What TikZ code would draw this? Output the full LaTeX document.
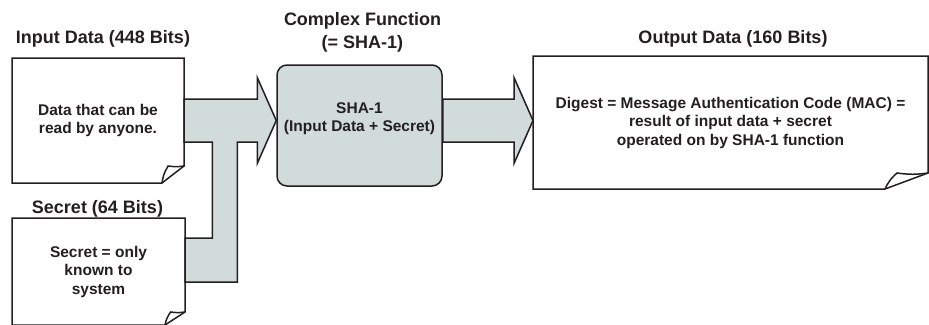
\documentclass[tikz,border=0pt]{standalone}
\usepackage{fontspec}
\setmainfont{Liberation Sans}
\usetikzlibrary{arrows.meta,calc,positioning}
\definecolor{ink}{RGB}{35,31,32}
\definecolor{shagray}{RGB}{209,220,218}

% outline of a sheet with a curled lower right corner
\newcommand{\curlbox}[3]{%
  \draw[boxline] (#1.south west) -- (#1.north west) -- (#1.north east)
    -- ($(#1.south east)+(0,-#3)$) coordinate (#1-b)
    -- ($(#1.south east)+(-#2,0)$) coordinate (#1-a) -- cycle;
  \draw[boxline] (#1-a) to[bend left=12] ($(#1-a)+(0.28*#2,-#3)$) to[bend right=8] (#1-b);}

\begin{document}
\begin{tikzpicture}[>=Latex,x=1pt,y=-1pt,text=ink,
  font=\bfseries\fontsize{15.5}{18.5}\selectfont,
  heading/.style={font=\bfseries\fontsize{18}{23}\selectfont,inner sep=0pt,align=center},
  docbox/.style={inner sep=0pt,outer sep=0pt,align=center},
  boxline/.style={draw=ink,line width=1.5pt,line join=miter},
  fatarrow/.style={draw=ink,fill=shagray,line width=1.5pt,line join=miter}]
  \useasboundingbox (0,0) rectangle (929,324);

  \node[docbox,minimum width=172pt,minimum height=125pt] (input) at (98,120.5)
    {Data that can be\\read by anyone.};
  \node[docbox,minimum width=173pt,minimum height=107pt] (secret) at (98.5,271.5)
    {Secret = only\\known to\\system};
  \node[draw=ink,fill=shagray,line width=1.5pt,rounded corners=10pt,
    minimum width=165pt,minimum height=121pt] (sha) at (359.5,125.5) {};
  \node[align=center] (shatext) at ($(sha.center)+(0,-7)$) {SHA-1\\(Input Data + Secret)};
  \node[docbox,minimum width=395pt,minimum height=133pt] (output) at (730.5,122.5)
    {Digest = Message Authentication Code (MAC) =\\result of input data + secret\\operated on by SHA-1 function};

  \node[heading,above=11pt of input,xshift=5pt] (inputtitle) {Input Data (448 Bits)};
  \node[heading,above=1pt of secret,xshift=-1pt] (secrettitle) {Secret (64 Bits)};
  \node[heading,above=12pt of sha,xshift=3pt] (shatitle) {Complex Function\\(= SHA-1)};
  \node[heading,above=9pt of output,xshift=2.5pt] (outputtitle) {Output Data (160 Bits)};

  % wide arrows
  \coordinate (tip1) at (sha.west |- input.east);
  \coordinate (fork) at ($(tip1)+(-51.5,0)$);
  \coordinate (sin) at ($(secret.east)+(0,-11.5)$);
  \filldraw[fatarrow] ($(input.east)+(0,-21.5)$) -- ($(tip1)+(-19,-21.5)$)
    -- ($(tip1)+(-19,-43)$) -- (tip1) -- ($(tip1)+(-19,43)$) -- ($(tip1)+(-19,21.5)$)
    -- ($(fork)+(12.5,21.5)$) |- ($(sin)+(0,22)$) -- ($(sin)+(0,-22)$)
    -| ($(fork)+(-12.5,21.5)$) -- ($(input.east)+(0,21.5)$) -- cycle;
  \coordinate (tip2) at (output.west |- tip1);
  \filldraw[fatarrow] ($(sha.east |- tip2)+(0,-21.5)$) -- ($(tip2)+(-19,-21.5)$)
    -- ($(tip2)+(-19,-43)$) -- (tip2) -- ($(tip2)+(-19,43)$) -- ($(tip2)+(-19,21.5)$)
    -- ($(sha.east |- tip2)+(0,21.5)$) -- cycle;

  \curlbox{input}{22}{17}
  \curlbox{secret}{20}{13}
  \curlbox{output}{43}{16}
\end{tikzpicture}
\end{document}
